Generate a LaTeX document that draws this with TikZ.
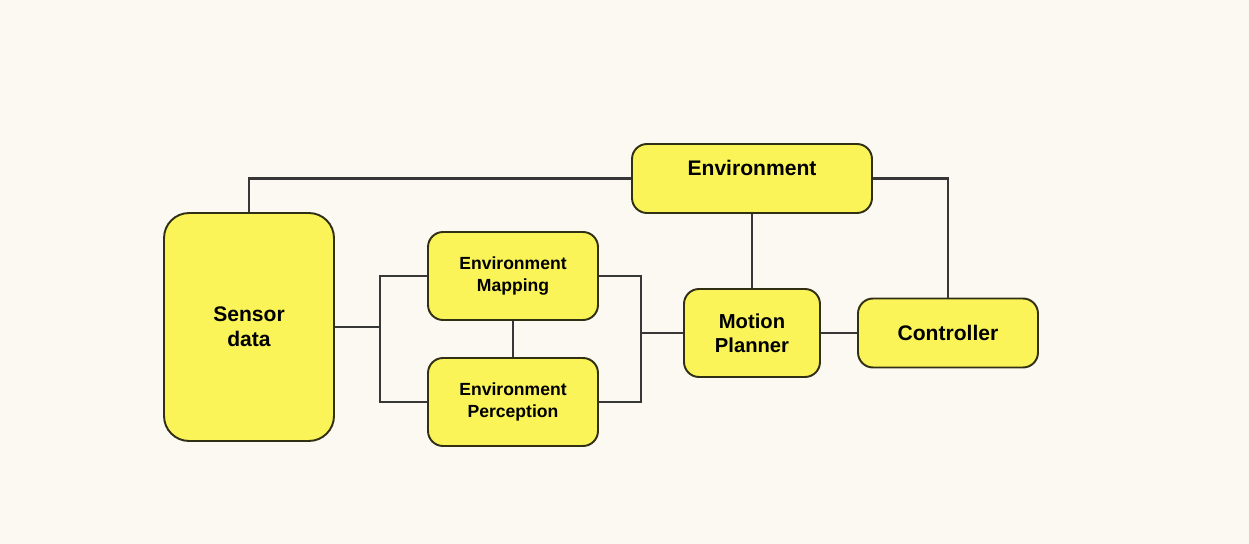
\documentclass[tikz,border=0pt]{standalone}
\usepackage{fontspec}
\setmainfont{Liberation Sans}
\usetikzlibrary{positioning}
\definecolor{paper}{RGB}{251,249,242}
\definecolor{boxfill}{RGB}{250,244,88}
\definecolor{boxline}{RGB}{50,48,20}
\definecolor{wire}{RGB}{55,55,55}

\begin{document}
\begin{tikzpicture}
[x=0.02cm, y=-0.02cm,
 block/.style={shape=rectangle, draw=boxline, fill=boxfill, line width=1.1pt,
   rounded corners=0.3cm, align=center, font=\bfseries\fontsize{11.5}{13.5}\selectfont},
 small/.style={font=\bfseries\fontsize{10}{12.5}\selectfont},
 link/.style={draw=wire, line width=1.3pt}]
\fill[paper] (0,0) rectangle (1249,544);
\useasboundingbox (0,0) rectangle (1249,544);
\node (sensor) at (249,327) [block, minimum width=3.4cm, minimum height=4.56cm,
  rounded corners=0.5cm, font=\bfseries\fontsize{12}{14.5}\selectfont] {Sensor\\data};
\node (map) at (513,276) [block, small, minimum width=3.4cm, minimum height=1.76cm] {Environment\\Mapping};
\node (perc) at (513,402) [block, small, minimum width=3.4cm, minimum height=1.76cm] {Environment\\Perception};
\node (env) at (752,178.5) [block, minimum width=4.8cm, minimum height=1.38cm,
  inner ysep=0.1cm, text height=0.53cm, text depth=0.65cm,
  font=\bfseries\fontsize{12}{14.5}\selectfont] {Environment};
\node (planner) at (752,333) [block, minimum width=2.72cm, minimum height=1.76cm] {Motion\\Planner};
\node (ctrl) at (948,333) [block, minimum width=3.6cm, minimum height=1.38cm,
  font=\bfseries\fontsize{12}{14.5}\selectfont] {Controller};
\coordinate (lbus) at (380,327);
\coordinate (rbus) at (641,333);
\draw[link] (sensor.north) |- (env.west);
\draw[link] (env.east) -| (ctrl.north);
\draw[link] (env.south) -- (planner.north);
\draw[link] (map.south) -- (perc.north);
\draw[link] (sensor.east) -- (lbus);
\draw[link] (map.west) -| (lbus) |- (perc.west);
\draw[link] (map.east) -| (rbus) |- (perc.east);
\draw[link] (rbus) -- (planner.west);
\draw[link] (planner.east) -- (ctrl.west);
\end{tikzpicture}
\end{document}
